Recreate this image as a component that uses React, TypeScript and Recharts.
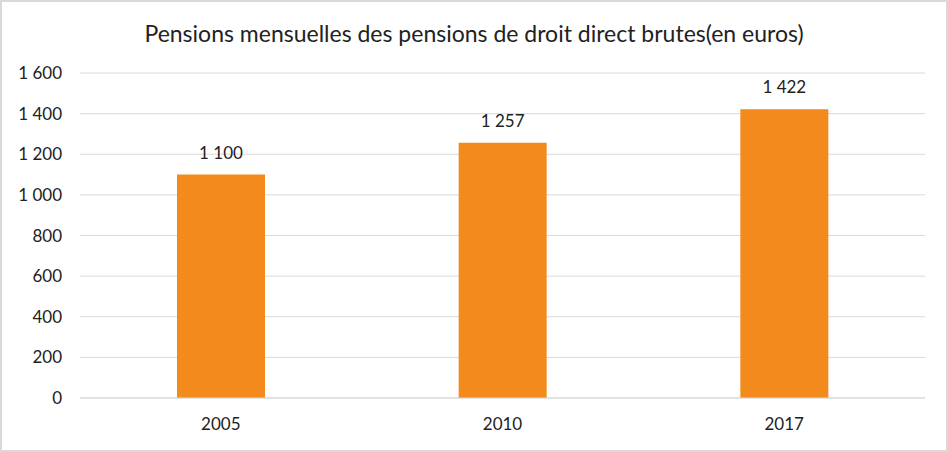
import { Bar, BarChart, CartesianGrid, LabelList, XAxis, YAxis } from "recharts";

const years = ["2005", "2010", "2017"];
const pensions = [1100, 1257, 1422];
const yTicks = [0, 200, 400, 600, 800, 1000, 1200, 1400, 1600];

const data = years.map((year, i) => ({ year, value: pensions[i] }));

// thousands with a plain space, as in the French original
const fmt = (v: number) => String(v).replace(/\B(?=(\d{3})+(?!\d))/g, " ");

const FONT = "Lato, 'Open Sans', sans-serif";

export default function App() {
  return (
    <div
      style={{
        position: "absolute",
        left: 0,
        top: 0,
        width: 948,
        height: 452,
        boxSizing: "border-box",
        border: "2px solid #d9d9d9",
        background: "#fff",
        fontFamily: FONT,
      }}
    >
      <div
        style={{
          position: "absolute",
          top: 17,
          left: 0,
          width: "100%",
          textAlign: "center",
          fontSize: 23,
          color: "#222",
        }}
      >
        Pensions mensuelles des pensions de droit direct brutes(en euros)
      </div>
      <BarChart
        width={944}
        height={448}
        data={data}
        margin={{ top: 71, right: 21, left: 0, bottom: 22 }}
        style={{ position: "absolute", left: 0, top: 0 }}
      >
        <CartesianGrid vertical={false} stroke="#d9d9d9" />
        <XAxis
          dataKey="year"
          axisLine={{ stroke: "#d9d9d9" }}
          tickLine={false}
          tickMargin={14}
          tick={{ fill: "#222", fontSize: 17, fontFamily: FONT }}
        />
        <YAxis
          width={78}
          domain={[0, 1600]}
          ticks={yTicks}
          tickFormatter={fmt}
          axisLine={false}
          tickLine={false}
          tickMargin={12}
          tick={{ fill: "#222", fontSize: 17, fontFamily: FONT }}
        />
        <Bar dataKey="value" fill="#f28a1c" barSize={88} isAnimationActive={false}>
          <LabelList
            dataKey="value"
            position="top"
            offset={16}
            formatter={(v: number) => fmt(v)}
            style={{ fill: "#222", fontSize: 17, fontFamily: FONT }}
          />
        </Bar>
      </BarChart>
    </div>
  );
}
